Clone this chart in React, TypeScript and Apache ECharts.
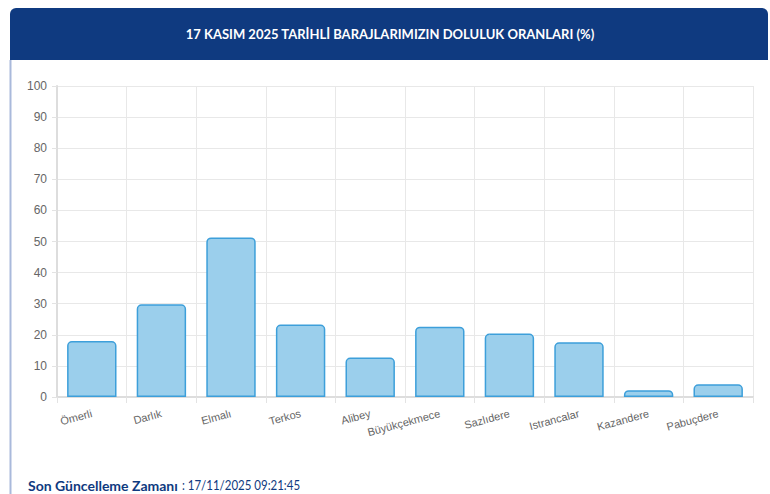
import React, { useEffect, useRef } from "react";
import * as echarts from "echarts";

const categories = ["Ömerli", "Darlık", "Elmalı", "Terkos", "Alibey", "Büyükçekmece", "Sazlıdere", "Istrancalar", "Kazandere", "Pabuçdere"];
const fillRates = [18.0, 29.8, 51.3, 23.3, 12.7, 22.6, 20.4, 17.6, 2.2, 4.1];
const yTicks = { min: 0, max: 100, interval: 10 };
const titleText = "17 KASIM 2025 TARİHLİ BARAJLARIMIZIN DOLULUK ORANLARI (%)";
const footerLabel = "Son Güncelleme Zamanı";
const footerValue = ": 17/11/2025 09:21:45";

export default function App() {
  const ref = useRef<HTMLDivElement>(null);
  useEffect(() => {
    if (!ref.current) return;
    const chart = echarts.init(ref.current, null, { renderer: "svg" });
    chart.setOption({
      animation: false,
      backgroundColor: "#ffffff",
      grid: { left: 57, right: 17, top: 86, bottom: 97, containLabel: false },
      graphic: [
        {
          type: "rect",
          shape: { x: 10, y: 8, width: 758, height: 52, r: [6, 6, 0, 0] },
          style: { fill: "#0F3A80" },
          z: 1,
        },
        {
          type: "line",
          shape: { x1: 10.5, y1: 60, x2: 10.5, y2: 494 },
          style: { stroke: "#A9B9DB", lineWidth: 2 },
        },
        {
          type: "text",
          x: 390,
          y: 34,
          z: 2,
          style: {
            text: titleText,
            fill: "#ffffff",
            font: "bold 13px Lato, 'Noto Sans', sans-serif",
            textAlign: "center",
            textVerticalAlign: "middle",
          },
        },
        {
          type: "text",
          x: 28,
          y: 485,
          style: {
            text: footerLabel,
            fill: "#0F3A80",
            font: "bold 14px Lato, 'Noto Sans', sans-serif",
            textVerticalAlign: "middle",
          },
        },
        {
          type: "text",
          x: 182,
          y: 485,
          scaleX: 0.82,
          style: {
            text: footerValue,
            fill: "#0F3A80",
            font: "14px Lato, 'Noto Sans', sans-serif",
            textVerticalAlign: "middle",
          },
        },
      ],
      xAxis: {
        type: "category",
        data: categories,
        boundaryGap: true,
        axisLine: { show: true, lineStyle: { color: "#dddddd", width: 2 } },
        axisTick: { show: true, length: 6, lineStyle: { color: "#e3e3e3" } },
        splitLine: { show: true, interval: 0, lineStyle: { color: "#e8e8e8" } },
        axisLabel: {
          interval: 0,
          rotate: 15,
          margin: 16,
          color: "#666666",
          fontSize: 11,
          fontFamily: "'Liberation Sans', Arial, sans-serif",
        },
      },
      yAxis: {
        type: "value",
        min: yTicks.min,
        max: yTicks.max,
        interval: yTicks.interval,
        axisLine: { show: true, lineStyle: { color: "#dddddd", width: 2 } },
        axisTick: { show: true, length: 5, lineStyle: { color: "#e3e3e3" } },
        splitLine: { show: true, lineStyle: { color: "#e8e8e8" } },
        axisLabel: {
          margin: 10,
          color: "#666666",
          fontSize: 12,
          fontFamily: "'Liberation Sans', Arial, sans-serif",
        },
      },
      series: [
        {
          type: "bar",
          data: fillRates,
          barWidth: "71%",
          itemStyle: {
            color: "#9BCFEC",
            borderColor: "#3D9FDA",
            borderWidth: 1.5,
            borderRadius: [4, 4, 0, 0],
          },
        },
      ],
    });
    return () => chart.dispose();
  }, []);
  return (
    <div
      ref={ref}
      style={{ position: "fixed", left: 0, top: 0, width: 770, height: 494 }}
    />
  );
}
